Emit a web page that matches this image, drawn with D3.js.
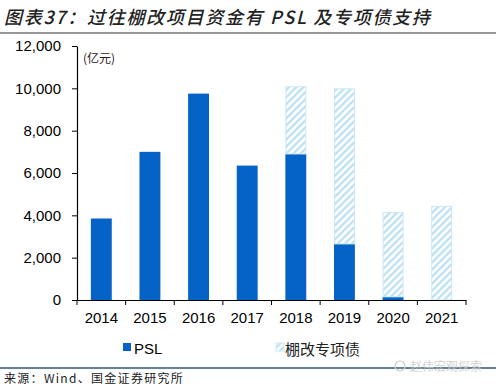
<!DOCTYPE html>
<html>
<head>
<meta charset="utf-8">
<script src="https://cdn.jsdelivr.net/npm/d3@7"></script>
<style>
  body { margin: 0; background: #fff; }
  svg { display: block; }
</style>
</head>
<body>
<div id="chart"></div>
<script>
// Chart data
const years = ['2014', '2015', '2016', '2017', '2018', '2019', '2020', '2021'];
const psl = [3850, 7000, 9750, 6350, 6900, 2650, 150, 0];
const specialBonds = [0, 0, 0, 0, 3200, 7350, 4000, 4450];
const yTicks = [0, 2000, 4000, 6000, 8000, 10000, 12000];
const legendNames = ['PSL', '棚改专项债'];

const W = 500, H = 389;
const svg = d3.select('#chart').append('svg')
  .attr('width', W)
  .attr('height', H);

// hatch pattern for the special bonds
const defs = svg.append('defs');
const pat = defs.append('pattern')
  .attr('id', 'hatch')
  .attr('patternUnits', 'userSpaceOnUse')
  .attr('width', 5)
  .attr('height', 5)
  .attr('patternTransform', 'rotate(45)');
pat.append('rect').attr('width', 5).attr('height', 5).attr('fill', '#fff');
pat.append('rect').attr('width', 2.2).attr('height', 5).attr('fill', '#b9e0f4');

// Title
svg.append('text')
  .attr('x', 4)
  .attr('y', 24)
  .attr('font-family', 'Noto Sans CJK SC')
  .attr('font-size', 18)
  .attr('font-weight', 500)
  .attr('font-style', 'italic')
  .attr('letter-spacing', 1.7)
  .attr('fill', '#222')
  .text('图表37：过往棚改项目资金有 PSL 及专项债支持');

svg.append('line')
  .attr('x1', 0).attr('x2', 496)
  .attr('y1', 33).attr('y2', 33)
  .attr('stroke', '#333').attr('stroke-width', 1.2);

// Scales
const x = d3.scaleBand()
  .domain(years)
  .range([77, 466])
  .paddingInner(0.57)
  .paddingOuter(0.285);

const y = d3.scaleLinear()
  .domain([0, 12000])
  .range([300, 46]);

// Bars - PSL
svg.append('g').selectAll('rect')
  .data(years)
  .join('rect')
  .attr('x', d => x(d))
  .attr('width', x.bandwidth())
  .attr('y', (d, i) => y(psl[i]))
  .attr('height', (d, i) => y(0) - y(psl[i]))
  .attr('fill', '#0563c8');

// Bars - special bonds, stacked on top
svg.append('g').selectAll('rect')
  .data(years.filter((d, i) => specialBonds[i] > 0))
  .join('rect')
  .attr('x', d => x(d) + 0.5)
  .attr('width', x.bandwidth() - 1)
  .attr('y', d => {
    const i = years.indexOf(d);
    return y(psl[i] + specialBonds[i]) + 0.5;
  })
  .attr('height', d => {
    const i = years.indexOf(d);
    return y(psl[i]) - y(psl[i] + specialBonds[i]) - 0.5;
  })
  .attr('fill', 'url(#hatch)')
  .attr('stroke', '#cbe8f7')
  .attr('stroke-width', 1);

// Axes
const yAxis = svg.append('g')
  .attr('transform', 'translate(77,0)')
  .call(d3.axisLeft(y).tickValues(yTicks).tickSize(5).tickSizeOuter(0)
    .tickFormat(d3.format(',')));
yAxis.selectAll('text')
  .attr('font-family', 'Liberation Sans, Arial')
  .attr('font-size', 15)
  .attr('fill', '#000')
  .attr('dx', -8);

const xAxis = svg.append('g')
  .attr('transform', 'translate(0,300)')
  .call(d3.axisBottom(x).tickSize(0).tickSizeOuter(0));
xAxis.selectAll('text')
  .attr('font-family', 'Liberation Sans, Arial')
  .attr('font-size', 15)
  .attr('fill', '#000')
  .attr('dy', '1.35em');

// x category boundary ticks
const bounds = years.map(d => x(d) - x.step() * x.paddingInner() / 2);
bounds.push(466);
xAxis.selectAll('line.bound')
  .data(bounds)
  .join('line')
  .attr('class', 'bound')
  .attr('x1', d => d).attr('x2', d => d)
  .attr('y1', 0).attr('y2', 5)
  .attr('stroke', '#000');

svg.selectAll('.domain').attr('stroke', '#000').attr('stroke-width', 1.2);
svg.selectAll('.tick line').attr('stroke', '#000');

// unit label
svg.append('text')
  .attr('x', 83)
  .attr('y', 63)
  .attr('font-family', 'Noto Sans CJK SC')
  .attr('font-size', 12)
  .attr('fill', '#222')
  .text('(亿元)');

// Legend
const legend = svg.append('g');
legend.append('rect')
  .attr('x', 123).attr('y', 343).attr('width', 8).attr('height', 8)
  .attr('fill', '#0563c8');
legend.append('text')
  .attr('x', 134).attr('y', 354)
  .attr('font-family', 'Liberation Sans, Arial')
  .attr('font-size', 15)
  .text(legendNames[0]);
legend.append('rect')
  .attr('x', 276).attr('y', 343).attr('width', 8).attr('height', 8)
  .attr('fill', 'url(#hatch)')
  .attr('stroke', '#cbe8f7');
legend.append('text')
  .attr('x', 285).attr('y', 355)
  .attr('font-family', 'Noto Sans CJK SC')
  .attr('font-size', 15)
  .attr('fill', '#222')
  .text(legendNames[1]);

// bottom rule and source
svg.append('line')
  .attr('x1', 0).attr('x2', 496)
  .attr('y1', 368).attr('y2', 368)
  .attr('stroke', '#2f5878').attr('stroke-width', 1.5);

svg.append('text')
  .attr('x', 4)
  .attr('y', 383)
  .attr('font-family', 'Noto Sans CJK SC')
  .attr('font-size', 12)
  .attr('letter-spacing', 1.3)
  .attr('fill', '#222')
  .text('来源：Wind、国金证券研究所');

// watermark
svg.append('circle')
  .attr('cx', 400).attr('cy', 366).attr('r', 5)
  .attr('fill', 'none').attr('stroke', '#cfcfcf').attr('stroke-width', 1.2);
svg.append('text')
  .attr('x', 410)
  .attr('y', 371)
  .attr('font-family', 'Noto Sans CJK SC')
  .attr('font-size', 12)
  .attr('fill', '#c8c8c8')
  .attr('opacity', 0.8)
  .text('赵伟宏观探索');
</script>
</body>
</html>
